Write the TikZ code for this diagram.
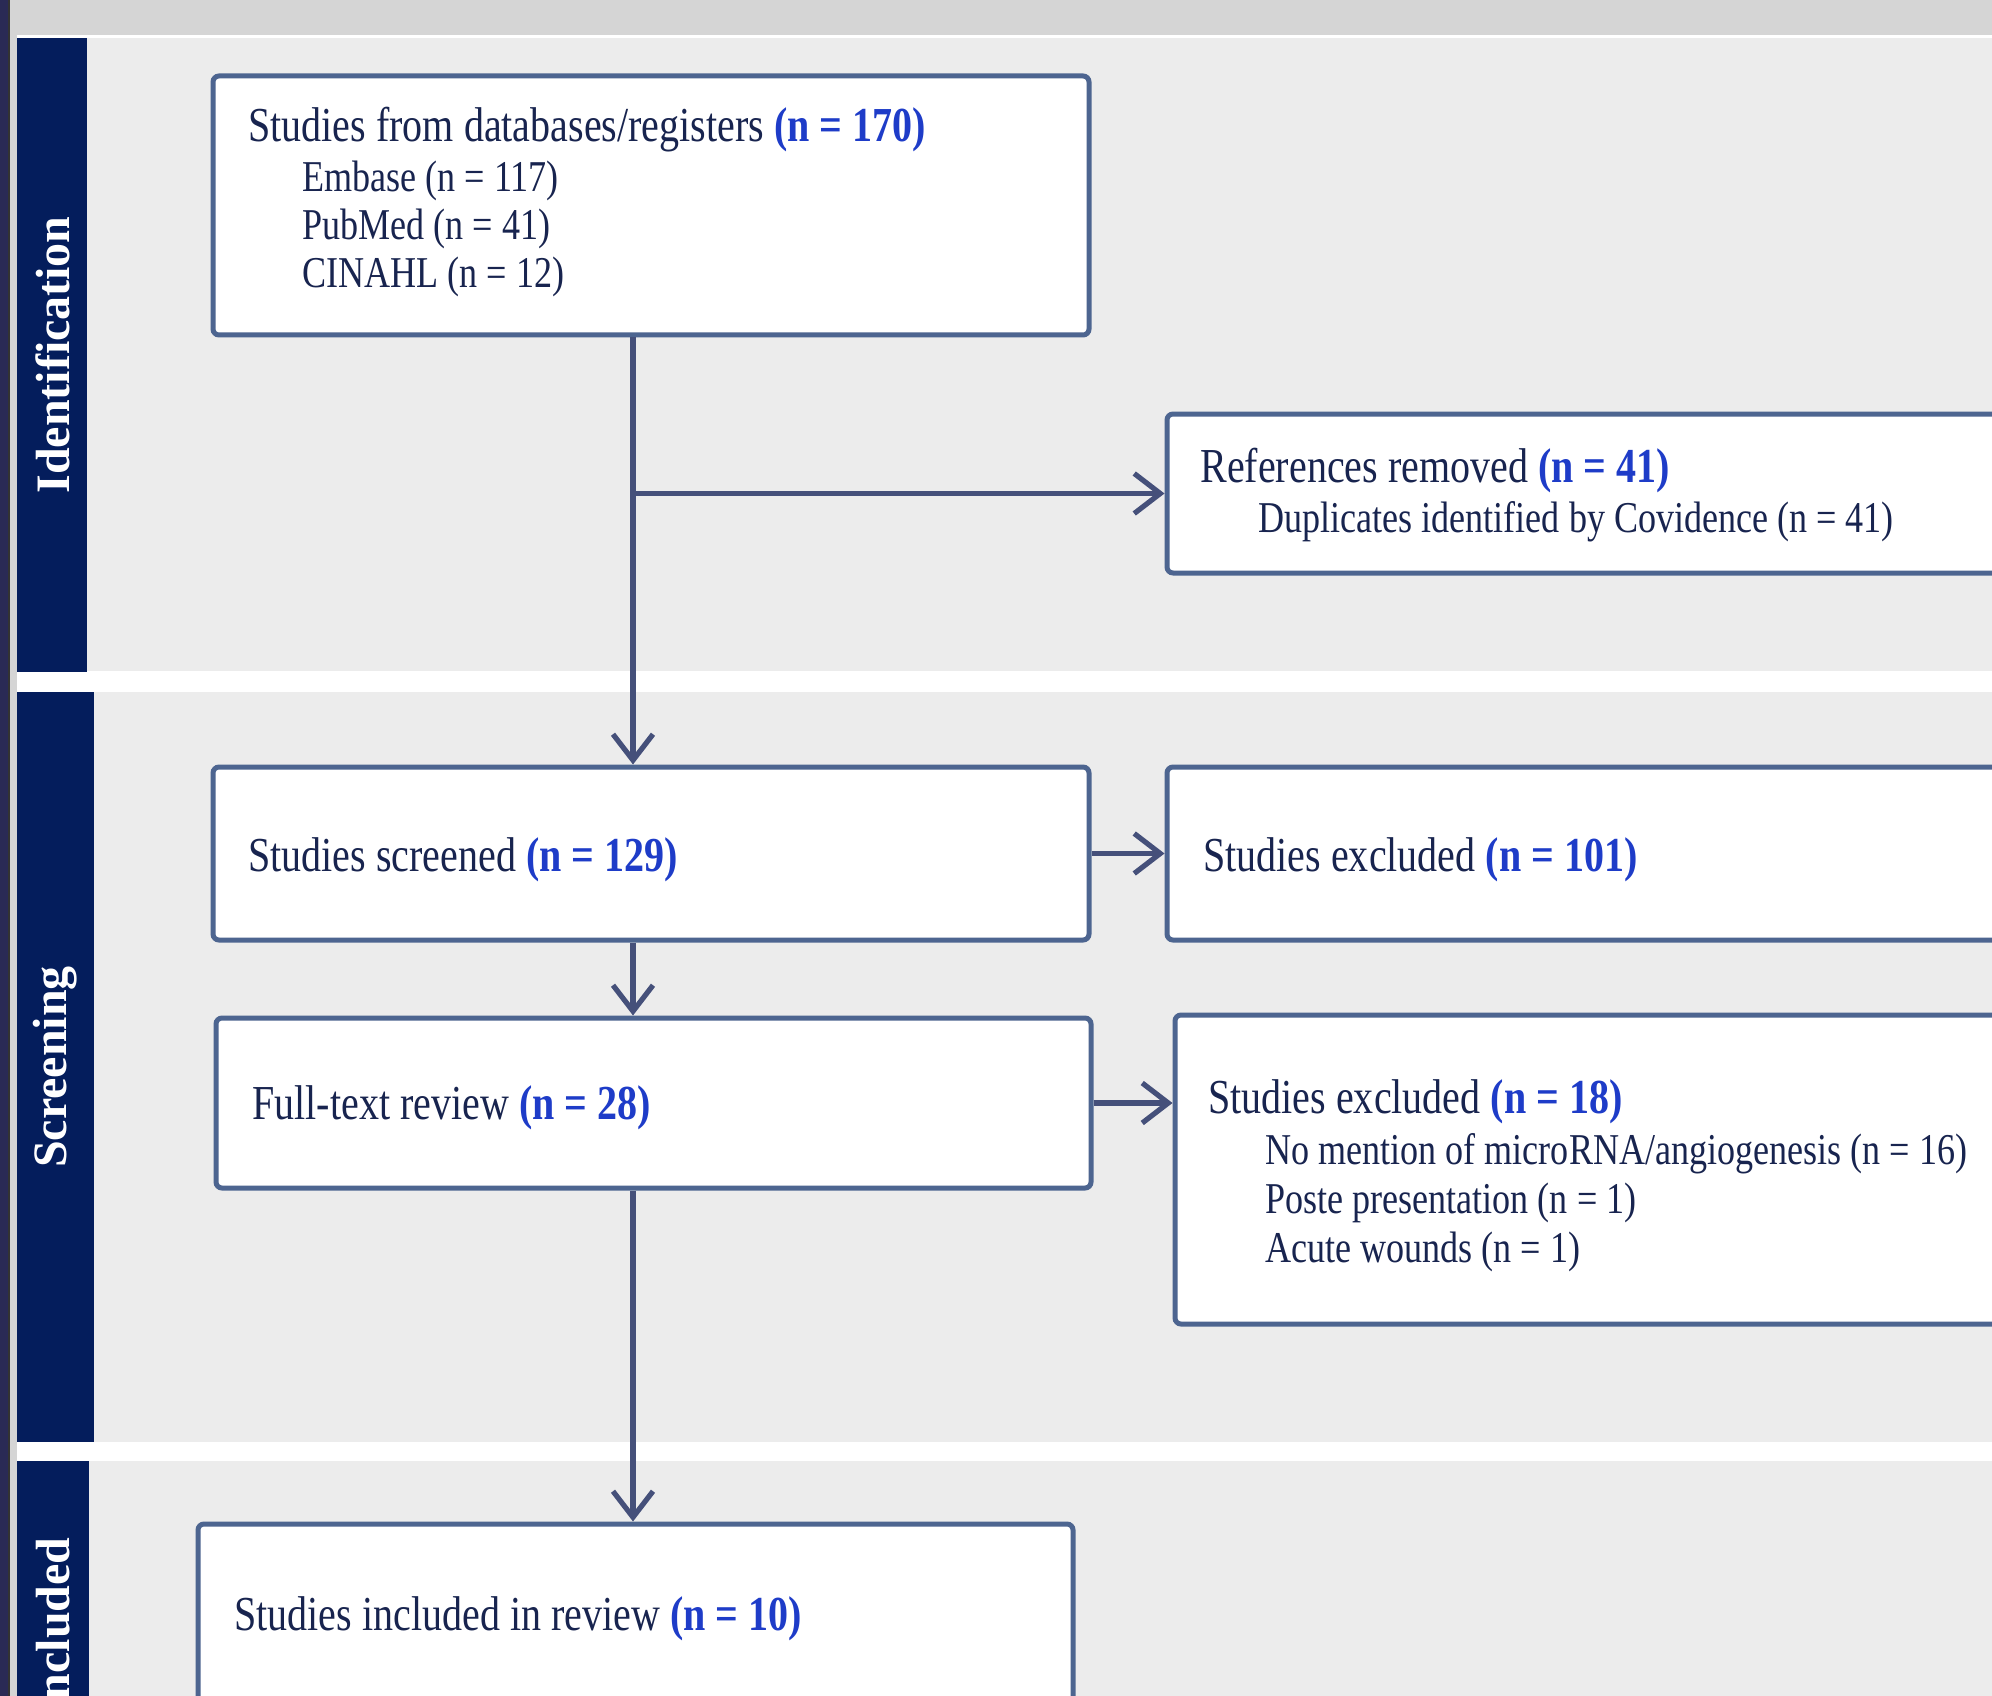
\documentclass[tikz,border=0pt]{standalone}
\usepackage{fontspec}
\setmainfont{Liberation Serif}
\newfontfamily\condfont{Liberation Serif}[FakeStretch=0.82]
\usetikzlibrary{arrows.meta}
\definecolor{topgray}{HTML}{D5D5D5}
\definecolor{leftdark}{HTML}{2A2A55}
\definecolor{secbg}{HTML}{ECECEC}
\definecolor{bandblue}{HTML}{041D5C}
\definecolor{boxedge}{HTML}{4D6590}
\definecolor{arrowc}{HTML}{45507A}
\definecolor{txtnavy}{HTML}{18244F}
\definecolor{numblue}{HTML}{1E3CC8}
\newcommand\nb[1]{\textcolor{numblue}{\bfseries #1}}
\tikzset{
  maintxt/.style={inner sep=0pt, anchor=base west, text=txtnavy, font=\condfont\fontsize{24.4}{28}\selectfont},
  subtxt/.style={inner sep=0pt, anchor=base west, text=txtnavy, font=\condfont\fontsize{22}{26}\selectfont},
  boxst/.style={draw=boxedge, fill=white, line width=2.5pt, rounded corners=3pt, inner sep=0pt},
  arr/.style={draw=arrowc, line width=2.6pt, -{Straight Barb[length=13pt,width=20pt]}},
  bandlbl/.style={rotate=90, text=white, font=\bfseries\fontsize{24}{28}\selectfont, inner sep=0pt}
}
\begin{document}
\begin{tikzpicture}[x=0.5pt,y=-0.5pt]
\useasboundingbox (0,0) rectangle (1992,1696);
\clip (0,0) rectangle (1992,1696);
% background
\fill[white] (0,0) rectangle (1992,1696);
\fill[topgray] (0,0) rectangle (1992,35);
\fill[topgray] (8,0) rectangle (17,1696);
\fill[leftdark] (0,0) rectangle (8,1696);
\fill[black!80] (8,0) rectangle (9.5,1696);
% section backgrounds
\fill[secbg] (87,38) rectangle (1992,671);
\fill[secbg] (94,692) rectangle (1992,1442);
\fill[secbg] (89,1461) rectangle (1992,1696);
% bands
\fill[bandblue] (17,38) rectangle (87,672);
\fill[bandblue] (17,692) rectangle (94,1442);
\fill[bandblue] (17,1461) rectangle (89,1696);
\node[bandlbl] (lid) at (53,355) {Identification};
\node[bandlbl] (lsc) at (55,1067) {Screening};
\node[bandlbl, anchor=east] (lin) at (53,1537) {Included};
% boxes
\node[boxst, minimum width=438pt, minimum height=129.5pt] (b1) at (651,205.5) {};
\node[boxst, minimum width=421.5pt, minimum height=79.5pt] (refs) at (1588.5,493.5) {};
\node[boxst, minimum width=438pt, minimum height=86.5pt] (screen) at (651,853.5) {};
\node[boxst, minimum width=421.5pt, minimum height=86.5pt] (ex1) at (1588.5,853.5) {};
\node[boxst, minimum width=437.5pt, minimum height=85pt] (ft) at (653.5,1103) {};
\node[boxst, minimum width=417.5pt, minimum height=154.5pt] (ex2) at (1592.5,1169.5) {};
\node[boxst, minimum width=437.5pt, minimum height=98pt] (inc) at (635.5,1622) {};
% texts
\node[maintxt] (b1a) at (248,142) {Studies from databases/registers \nb{(n = 170)}};
\node[subtxt] (b1b) at (302,192) {Embase (n = 117)};
\node[subtxt] (b1c) at (302,240) {PubMed (n = 41)};
\node[subtxt] (b1d) at (302,288) {CINAHL (n = 12)};
\node[maintxt] (ra) at (1200,482) {References removed \nb{(n = 41)}};
\node[subtxt] (rb) at (1258,532) {Duplicates identified by Covidence (n = 41)};
\node[maintxt] (sa) at (248,871) {Studies screened \nb{(n = 129)}};
\node[maintxt] (e1a) at (1203,871) {Studies excluded \nb{(n = 101)}};
\node[maintxt] (fa) at (252,1119) {Full-text review \nb{(n = 28)}};
\node[maintxt] (e2a) at (1208,1113) {Studies excluded \nb{(n = 18)}};
\node[subtxt] (e2b) at (1265,1164) {No mention of microRNA/angiogenesis (n = 16)};
\node[subtxt] (e2c) at (1265,1213) {Poste presentation (n = 1)};
\node[subtxt] (e2d) at (1265,1262) {Acute wounds (n = 1)};
\node[maintxt] (ia) at (234,1630) {Studies included in review \nb{(n = 10)}};
% connectors
\coordinate (spine) at (633,0);
\draw[arr] (b1.south -| spine) -- (screen.north -| spine);
\draw[arr] (refs.west -| spine) -- (refs.west);
\draw[arr] (screen.east) -- (ex1.west);
\draw[arr] (screen.south -| spine) -- (ft.north -| spine);
\draw[arr] (ft.east) -- (ft.east -| ex2.west);
\draw[arr] (ft.south -| spine) -- (inc.north -| spine);
\end{tikzpicture}
\end{document}
